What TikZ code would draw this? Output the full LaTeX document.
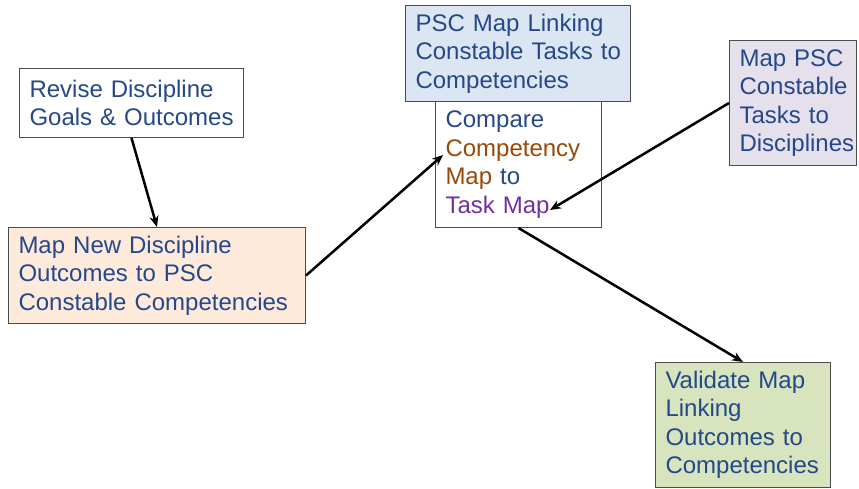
\documentclass[tikz,border=0pt]{standalone}
\usepackage{fontspec}
\setmainfont{Liberation Sans}
\usetikzlibrary{arrows.meta}

\definecolor{txtblue}{HTML}{24488A}
\definecolor{txtbrown}{HTML}{984807}
\definecolor{txtpurple}{HTML}{7030A0}
\definecolor{peach}{HTML}{FDEADA}
\definecolor{paleblue}{HTML}{DCE6F2}
\definecolor{lavender}{HTML}{E6E0EC}
\definecolor{palegreen}{HTML}{D7E4BD}

\tikzset{
  box/.style={draw=black!70, line width=1pt, anchor=north west, inner xsep=10pt,
    inner ysep=0pt, align=left, text=txtblue, font=\fontsize{24}{28.5}\selectfont},
  link/.style={-{Stealth[length=11pt, width=9pt]}, line width=2.5pt}
}

\begin{document}
\begin{tikzpicture}[x=1pt, y=-1pt]

\useasboundingbox (0, 0) rectangle (859, 489);

\node [box, text width=204pt, minimum height=69pt] (revise) at (19, 68) {Revise~Discipline\\\mbox{Goals \& Outcomes}};
\node [box, fill=peach, text width=277pt, minimum height=96pt] (mapnew) at (8, 227) {Map~New~Discipline\\Outcomes~to~PSC\\Constable~Competencies};
\node [box, fill=paleblue, text width=205pt, minimum height=96pt] (pscmap) at (405, 5) {PSC~Map~Linking\\Constable~Tasks~to\\Competencies};
\node [box, text width=146pt, minimum height=126pt] (compare) at (435, 101) {Compare\\\textcolor{txtbrown}{Competency}\\\textcolor{txtbrown}{Map}~to\\\textcolor{txtpurple}{Task~Map}};
\node [box, fill=lavender, text width=107pt, minimum height=125pt] (mappsc) at (729, 40) {Map~PSC\\Constable\\Tasks~to\\Disciplines};
\node [box, fill=palegreen, text width=155pt, minimum height=125pt] (validate) at (655, 362) {Validate~Map\\Linking\\Outcomes~to\\Competencies};

\coordinate (comptxt) at (443, 155);
\coordinate (tasktxt) at (550, 210);

\draw [link] (revise.south) -- (mapnew.north);
\draw [link] (mapnew.east) -- (comptxt);
\draw [link] (mappsc.west) -- (tasktxt);
\draw [link] (compare.south) -- (validate.north);

\end{tikzpicture}
\end{document}
